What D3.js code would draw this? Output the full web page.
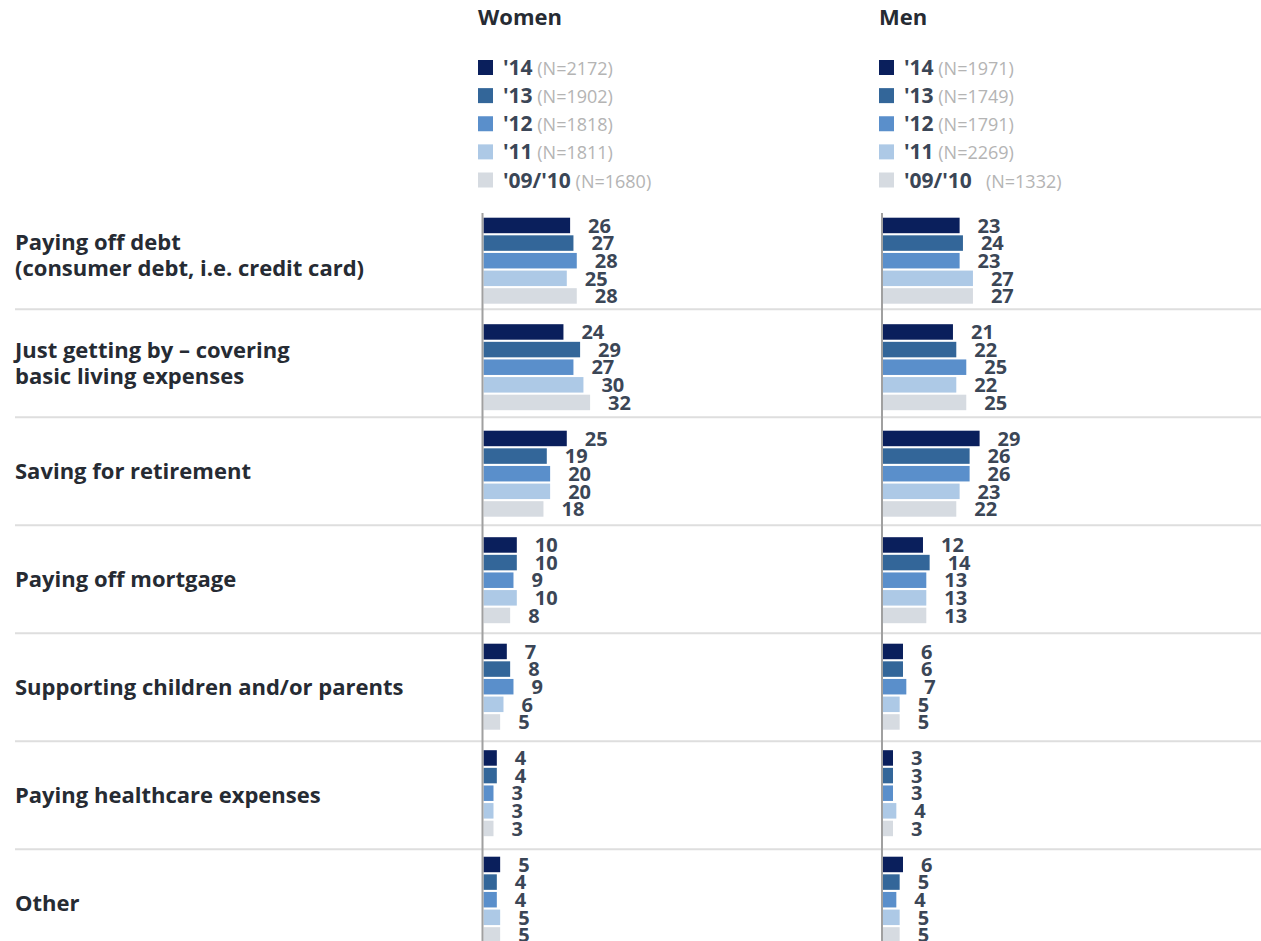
<!DOCTYPE html>
<html>
<head>
<meta charset="utf-8">
<script src="https://cdn.jsdelivr.net/npm/d3@7"></script>
<style>
  html, body { margin: 0; padding: 0; background: #fff; overflow: hidden; }
  svg { display: block; font-family: "Open Sans", Lato, sans-serif; }
</style>
</head>
<body>
<svg id="chart" width="1261" height="941"></svg>
<script>
// ---------- data ----------
const categories = [
  "Paying off debt\n(consumer debt, i.e. credit card)",
  "Just getting by \u2013 covering\nbasic living expenses",
  "Saving for retirement",
  "Paying off mortgage",
  "Supporting children and/or parents",
  "Paying healthcare expenses",
  "Other"
];
const years = ["'14", "'13", "'12", "'11", "'09/'10"];
const colors = ["#0a1f5c", "#336699", "#5a8fcb", "#adc9e6", "#d6dbe1"];
const panels = ["Women", "Men"];
const womenN = [2172, 1902, 1818, 1811, 1680];
const menN = [1971, 1749, 1791, 2269, 1332];
// values per year, in category order
const women14 = [26, 24, 25, 10, 7, 4, 5];
const women13 = [27, 29, 19, 10, 8, 4, 4];
const women12 = [28, 27, 20, 9, 9, 3, 4];
const women11 = [25, 30, 20, 10, 6, 3, 5];
const women0910 = [28, 32, 18, 8, 5, 3, 5];
const men14 = [23, 21, 29, 12, 6, 3, 6];
const men13 = [24, 22, 26, 14, 6, 3, 5];
const men12 = [23, 25, 26, 13, 7, 3, 4];
const men11 = [27, 22, 23, 13, 5, 4, 5];
const men0910 = [27, 25, 22, 13, 5, 3, 5];

const panelData = [
  { name: panels[0], ns: womenN, series: [women14, women13, women12, women11, women0910], x0: 483.5, legendX: 478 },
  { name: panels[1], ns: menN, series: [men14, men13, men12, men11, men0910], x0: 883, legendX: 879 }
];

// ---------- layout ----------
const svg = d3.select("#chart");
const rowScale = d3.scaleBand().domain(categories).range([201.3, 957.3]).padding(0);
const barGroupScale = d3.scaleBand().domain(categories).range([217.7, 217.7 + 106.5 * 7]).padding(0);
const subScale = d3.scaleBand().domain(years).range([0, 86]).paddingInner(0.12).paddingOuter(0);
const xLen = d3.scaleLinear().domain([0, 32]).range([0, 106.6]);
const legendY = d3.scalePoint().domain(years).range([67.5, 180]);

const labelColor = "#3b4656";
const textDark = "#262b33";

// separators
svg.append("g").selectAll("line")
  .data(categories.slice(0, -1))
  .join("line")
  .attr("x1", 15).attr("x2", 1261)
  .attr("y1", d => rowScale(d) + rowScale.bandwidth())
  .attr("y2", d => rowScale(d) + rowScale.bandwidth())
  .attr("stroke", "#dedede").attr("stroke-width", 2);

// category labels
const catG = svg.append("g");
categories.forEach(c => {
  const lines = c.split("\n");
  const cy = rowScale(c) + rowScale.bandwidth() / 2;
  const lh = 26;
  const t = catG.append("text")
    .attr("x", 15)
    .attr("fill", textDark)
    .attr("font-weight", 700)
    .attr("font-size", 22);
  lines.forEach((ln, i) => {
    t.append("tspan")
      .attr("x", 15)
      .attr("y", cy + (i - (lines.length - 1) / 2) * lh + 7.8)
      .text(ln);
  });
});

panelData.forEach(p => {
  const g = svg.append("g");
  // title
  g.append("text")
    .attr("x", p.legendX).attr("y", 25)
    .attr("font-size", 22).attr("font-weight", 700)
    .attr("fill", textDark)
    .text(p.name);
  // legend
  years.forEach((y, i) => {
    const ly = legendY(y);
    g.append("rect")
      .attr("x", p.legendX).attr("y", ly - 7.5)
      .attr("width", 15).attr("height", 15)
      .attr("fill", colors[i]);
    const t = g.append("text")
      .attr("x", p.legendX + 25).attr("y", ly + 7.5)
      .style("white-space", "pre");
    t.append("tspan")
      .attr("font-size", 21).attr("font-weight", 700).attr("fill", labelColor)
      .text(y);
    t.append("tspan")
      .attr("font-size", 18).attr("font-weight", 400).attr("fill", "#b4b4b4")
      .text((p.name === "Men" && i === 4 ? "   " : " ") + "(N=" + p.ns[i] + ")");
  });

  // bars
  categories.forEach((c, ci) => {
    const gy = barGroupScale(c);
    years.forEach((y, yi) => {
      const v = p.series[yi][ci];
      const by = gy + subScale(y);
      g.append("rect")
        .attr("x", p.x0).attr("y", by)
        .attr("width", xLen(v)).attr("height", subScale.bandwidth())
        .attr("fill", colors[yi]);
      g.append("text")
        .attr("x", p.x0 + xLen(v) + 18)
        .attr("y", by + subScale.bandwidth() / 2 + 7.2)
        .attr("font-size", 20).attr("font-weight", 700)
        .attr("fill", labelColor)
        .text(v);
    });
  });

  // axis line
  g.append("line")
    .attr("x1", p.x0 - 1).attr("x2", p.x0 - 1)
    .attr("y1", 213).attr("y2", 941)
    .attr("stroke", "#a0a0a0").attr("stroke-width", 2);
});
</script>
</body>
</html>
